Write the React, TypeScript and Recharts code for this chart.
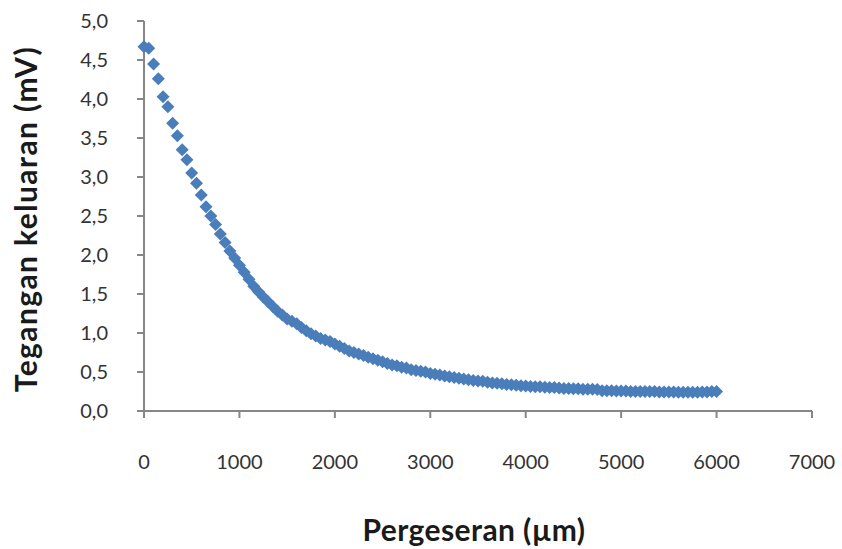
import { ScatterChart, Scatter, XAxis, YAxis, Label } from 'recharts';

const displacement: number[] = [];
for (let d = 0; d <= 6000; d += 50) displacement.push(d);

// output voltage (mV), one value every 50 µm
const voltage = [
  4.67, 4.65, 4.45, 4.26, 4.03, 3.9, 3.69, 3.53, 3.35, 3.22,
  3.05, 2.92, 2.77, 2.62, 2.5, 2.39, 2.27, 2.16, 2.05, 1.96,
  1.87, 1.78, 1.69, 1.6, 1.53, 1.46, 1.4, 1.34, 1.28, 1.23,
  1.18, 1.15, 1.12, 1.07, 1.03, 0.99, 0.96, 0.93, 0.91, 0.89,
  0.86, 0.83, 0.8, 0.77, 0.75, 0.73, 0.71, 0.69, 0.67, 0.65,
  0.63, 0.61, 0.59, 0.58, 0.56, 0.55, 0.53, 0.52, 0.51, 0.5,
  0.48, 0.47, 0.46, 0.45, 0.44, 0.43, 0.42, 0.41, 0.4, 0.39,
  0.385, 0.38, 0.37, 0.36, 0.355, 0.35, 0.34, 0.335, 0.33, 0.325,
  0.32, 0.315, 0.31, 0.31, 0.305, 0.3, 0.3, 0.295, 0.29, 0.29,
  0.285, 0.285, 0.28, 0.28, 0.28, 0.275, 0.26, 0.26, 0.26, 0.255,
  0.255, 0.255, 0.25, 0.25, 0.25, 0.25, 0.25, 0.25, 0.245, 0.245,
  0.245, 0.245, 0.24, 0.24, 0.24, 0.24, 0.24, 0.245, 0.245, 0.25,
  0.25,
];

const xTicks = [0, 1000, 2000, 3000, 4000, 5000, 6000, 7000];
const yTicks = [0, 0.5, 1, 1.5, 2, 2.5, 3, 3.5, 4, 4.5, 5];

const data = displacement.map((x, i) => ({ x, y: voltage[i] }));

const AXIS = '#868686';
const FONT = 'Lato, "Open Sans", sans-serif';

function Diamond(props: any) {
  const { cx, cy } = props;
  const r = 6.5;
  return (
    <polygon
      points={`${cx},${cy - r} ${cx + r},${cy} ${cx},${cy + r} ${cx - r},${cy}`}
      fill="#4a7ebb"
    />
  );
}

export default function App() {
  return (
    <div style={{ position: 'fixed', left: 0, top: 0, background: '#fff' }}>
      <ScatterChart
        width={842}
        height={549}
        margin={{ top: 21, right: 30, bottom: 108, left: 80 }}
      >
        <XAxis
          type="number"
          dataKey="x"
          domain={[0, 7000]}
          ticks={xTicks}
          interval={0}
          stroke={AXIS}
          strokeWidth={2}
          tickSize={7}
          tickMargin={37}
          height={30}
          tick={{ fill: '#333', fontSize: 20, fontFamily: FONT }}
        >
          <Label
            value="Pergeseran (µm)"
            position="insideBottom"
            offset={-100}
            dx={-4}
            style={{ fill: '#1a1a1a', fontSize: 30, fontWeight: 700, fontFamily: FONT, letterSpacing: 0.4 }}
          />
        </XAxis>
        <YAxis
          type="number"
          dataKey="y"
          domain={[0, 5]}
          ticks={yTicks}
          interval={0}
          stroke={AXIS}
          strokeWidth={2}
          tickSize={7}
          tickMargin={29}
          width={64}
          tickFormatter={(v: number) => v.toFixed(1).replace('.', ',')}
          tick={{ fill: '#333', fontSize: 20, fontFamily: FONT }}
        >
          <Label
            value="Tegangan keluaran (mV)"
            angle={-90}
            position="center"
            dx={-86}
            dy={3}
            style={{ fill: '#1a1a1a', fontSize: 30, fontWeight: 700, fontFamily: FONT, letterSpacing: 1.4, textAnchor: 'middle' }}
          />
        </YAxis>
        <Scatter data={data} shape={<Diamond />} isAnimationActive={false} />
      </ScatterChart>
    </div>
  );
}
